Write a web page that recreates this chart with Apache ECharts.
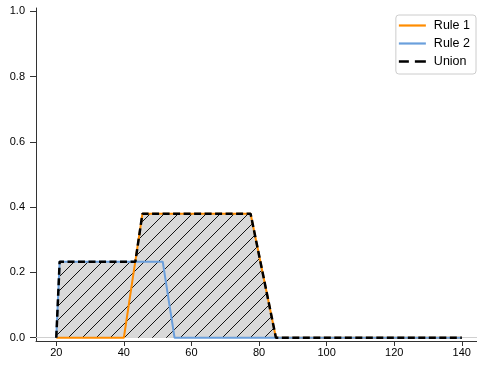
<!DOCTYPE html>
<html>
<head>
<meta charset="utf-8">
<script src="https://cdn.jsdelivr.net/npm/echarts@6/dist/echarts.min.js"></script>
<style>
html,body{margin:0;padding:0;background:#fff;}
#chart{width:477px;height:366px;}
</style>
</head>
<body>
<div id="chart"></div>
<script>
// Data
var rule1X = [20, 40, 45.5, 77.5, 85, 140];
var rule1Y = [0, 0, 0.38, 0.38, 0, 0];
var rule2X = [20, 21, 51.5, 55, 140];
var rule2Y = [0, 0.233, 0.233, 0, 0];
var unionX = [20, 21, 43.4, 45.5, 77.5, 85, 140];
var unionY = [0, 0.233, 0.233, 0.38, 0.38, 0, 0];
var xTicks = [20, 40, 60, 80, 100, 120, 140];
var yTicks = [0, 0.2, 0.4, 0.6, 0.8, 1.0];
var seriesNames = ['Rule 1', 'Rule 2', 'Union'];

function pairs(xs, ys) { return xs.map(function (x, i) { return [x, ys[i]]; }); }

// hatch pattern
var tile = document.createElement('canvas');
tile.width = 14; tile.height = 14;
var ctx = tile.getContext('2d');
ctx.fillStyle = '#d9d9d9';
ctx.fillRect(0, 0, 14, 14);
ctx.strokeStyle = '#111';
ctx.lineWidth = 1;
ctx.beginPath();
ctx.moveTo(-1, 1); ctx.lineTo(1, -1);
ctx.moveTo(-1, 15); ctx.lineTo(15, -1);
ctx.moveTo(13, 15); ctx.lineTo(15, 13);
ctx.stroke();

var solidIcon = 'path://M0,0H27V2.2H0Z';
var dashIcon = 'path://M0,0H10V2.6H0ZM16,0H27V2.6H16Z';

var font = '"Liberation Sans", Arial, sans-serif';
var chart = echarts.init(document.getElementById('chart'), null, {renderer: 'canvas'});
chart.setOption({
  animation: false,
  textStyle: {fontFamily: font},
  grid: {left: 36, right: 0, top: 8, bottom: 25},
  legend: {
    data: [
      {name: seriesNames[0], icon: solidIcon},
      {name: seriesNames[1], icon: solidIcon},
      {name: seriesNames[2], icon: dashIcon}
    ],
    orient: 'vertical',
    right: 1, top: 15,
    itemWidth: 27, itemHeight: 12, itemGap: 5,
    padding: [4, 6, 6, 3],
    borderColor: '#cccccc', borderWidth: 1, borderRadius: 3,
    backgroundColor: '#fff',
    textStyle: {fontSize: 12.5, color: '#000', fontFamily: font, padding: [0, 0, 0, 3]}
  },
  xAxis: [{
    type: 'value', min: 14, max: 144.5,
    axisLine: {show: true, onZero: false, lineStyle: {color: '#333', width: 1}},
    axisTick: {show: true, length: 5, customValues: xTicks, lineStyle: {color: '#333'}},
    axisLabel: {customValues: xTicks, fontSize: 11, color: '#000', margin: 6, fontFamily: font},
    splitLine: {show: false}
  }, {
    type: 'value', position: 'top', min: 14, max: 144.5,
    axisLine: {show: true, lineStyle: {color: '#d0d0d0', width: 1}},
    axisTick: {show: false}, axisLabel: {show: false}, splitLine: {show: false}
  }],
  yAxis: {
    type: 'value', min: -0.01, max: 1.01,
    axisLine: {show: true, onZero: false, lineStyle: {color: '#333', width: 1}},
    axisTick: {show: true, length: 6, customValues: yTicks, lineStyle: {color: '#333'}},
    axisLabel: {customValues: yTicks, fontSize: 11, color: '#000', margin: 11, fontFamily: font,
      formatter: function (v) { return v.toFixed(1); }},
    splitLine: {show: false}
  },
  series: [
    {name: 'UnionFill', type: 'line', data: pairs(unionX, unionY), symbol: 'none',
      lineStyle: {width: 0, opacity: 0},
      areaStyle: {color: {image: tile, repeat: 'repeat'}, opacity: 1}, z: 1, silent: true},
    {name: seriesNames[0], type: 'line', data: pairs(rule1X, rule1Y), symbol: 'none',
      lineStyle: {color: '#ff8c00', width: 2}, itemStyle: {color: '#ff8c00'}, z: 2},
    {name: seriesNames[1], type: 'line', data: pairs(rule2X, rule2Y), symbol: 'none',
      lineStyle: {color: '#6a9fdc', width: 2}, itemStyle: {color: '#6a9fdc'}, z: 3},
    {name: seriesNames[2], type: 'line', data: pairs(unionX, unionY), symbol: 'none',
      lineStyle: {color: '#000', width: 2.5, type: [7, 3.5]}, itemStyle: {color: '#000'}, z: 4}
  ]
});
</script>
</body>
</html>
